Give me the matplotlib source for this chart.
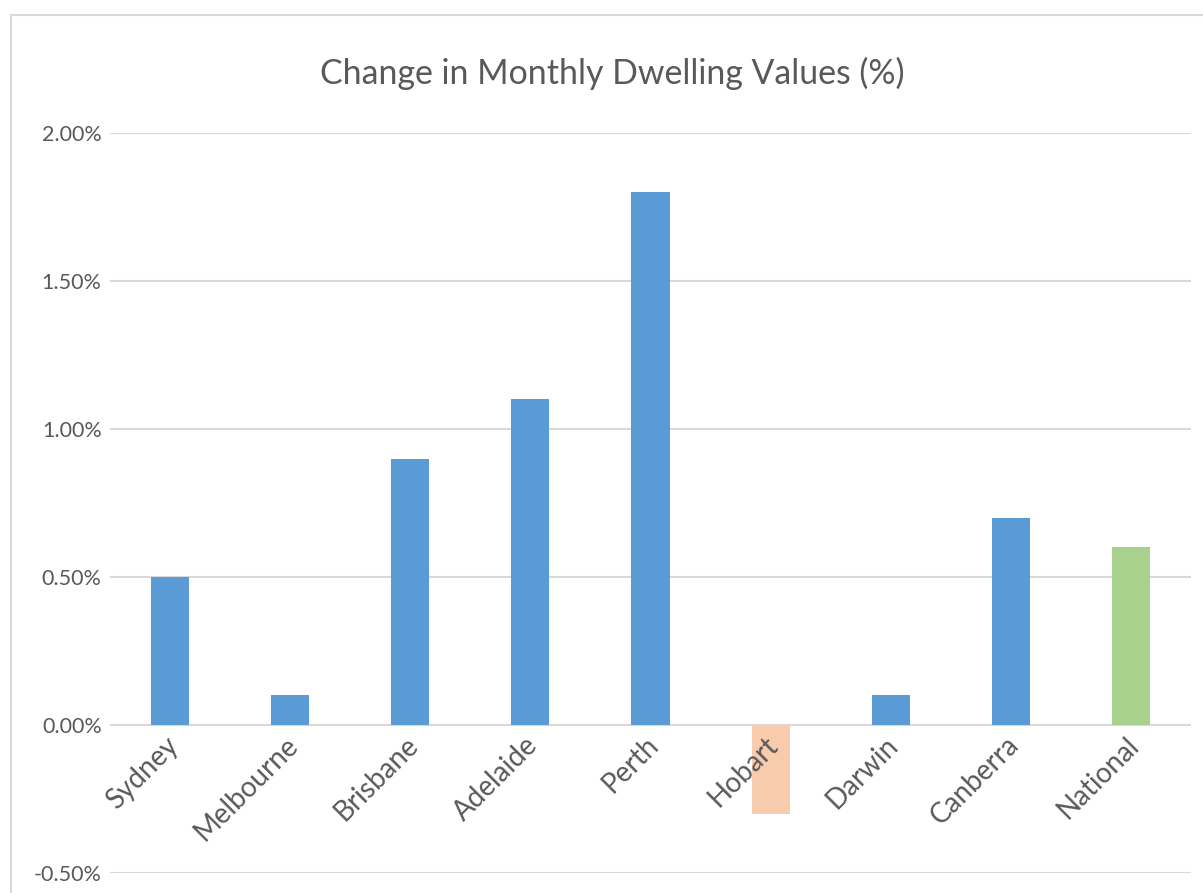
import matplotlib
matplotlib.use("Agg")
import matplotlib.pyplot as plt
from matplotlib.patches import Rectangle
from matplotlib.ticker import FuncFormatter

cities = ["Sydney", "Melbourne", "Brisbane", "Adelaide", "Perth",
          "Hobart", "Darwin", "Canberra", "National"]
change = [0.5, 0.1, 0.9, 1.1, 1.8, -0.3, 0.1, 0.7, 0.6]
colours = ["#5B9BD5"] * 5 + ["#F8CBAD"] + ["#5B9BD5"] * 2 + ["#A9D18E"]
yticks = [-0.5, 0.0, 0.5, 1.0, 1.5, 2.0]

plt.rcParams['font.family'] = ['Lato', 'DejaVu Sans']
text_col = "#595959"
grid_col = "#D9D9D9"

W, H = 1203, 893
fig = plt.figure(figsize=(W / 100, H / 100), dpi=100)

# outer chart border (runs off the right and bottom edges)
fig.patches.append(Rectangle((11 / W, -0.05), 1.1, 1 - 15 / H + 0.05,
                             transform=fig.transFigure, fill=False,
                             edgecolor=grid_col, linewidth=1.5))

ax = fig.add_axes([110 / W, 1 - 873 / H, (1191 - 110) / W, (873 - 133) / H])
ax.set_axisbelow(True)
ax.yaxis.grid(True, color=grid_col, linewidth=1.5)
ax.bar(range(len(cities)), change, width=0.317, color=colours, zorder=2)

ax.set_xlim(-0.5, len(cities) - 0.5)
ax.set_ylim(-0.5, 2.0)
ax.set_yticks(yticks)
ax.yaxis.set_major_formatter(FuncFormatter(lambda v, p: f"{v:.2f}%"))
ax.set_xticks([])
ax.tick_params(axis='y', length=0, pad=6, labelsize=15.5, labelcolor=text_col)
for s in ax.spines.values():
    s.set_visible(False)

# category labels sit just under the zero line, over the bars
for i, name in enumerate(cities):
    ax.annotate(name, xy=(i, 0), xytext=(-4, -5), textcoords='offset points',
                rotation=45, ha='right', va='top', rotation_mode='anchor',
                fontsize=20, color=text_col, zorder=5)

fig.text(612 / W, 1 - 73 / H, "Change in Monthly Dwelling Values (%)",
         ha='center', va='center', fontsize=24.4, color=text_col)

fig.savefig("out.png", dpi=100)
